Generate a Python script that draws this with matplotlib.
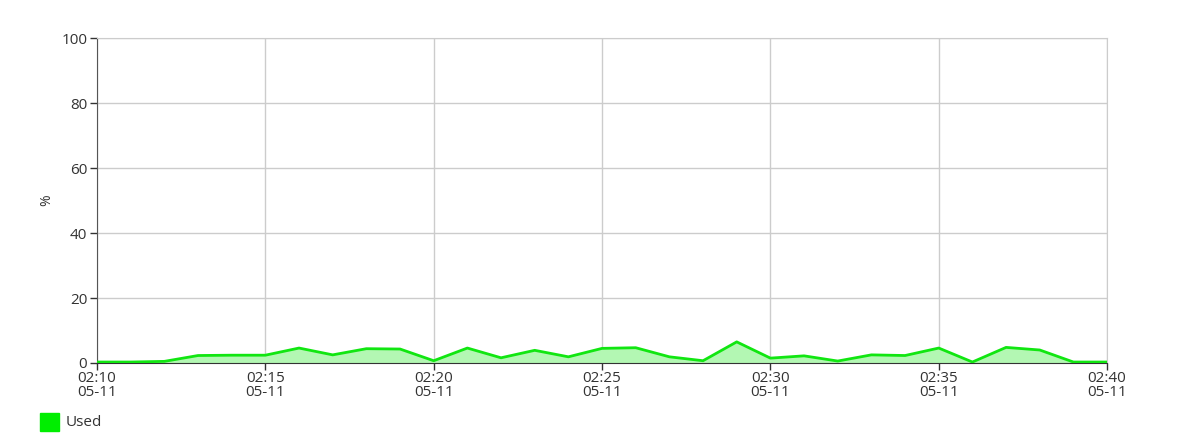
import matplotlib
matplotlib.use('Agg')
import matplotlib.pyplot as plt
import matplotlib.dates as mdates
import pandas as pd

times = pd.date_range('2023-05-11 02:10', '2023-05-11 02:40', freq='1min')
used = [0.3, 0.3, 0.5, 2.3, 2.4, 2.4, 4.6, 2.5, 4.4, 4.3,
        0.7, 4.6, 1.6, 3.9, 1.9, 4.5, 4.7, 1.9, 0.7, 6.5,
        1.5, 2.2, 0.6, 2.5, 2.3, 4.6, 0.3, 4.8, 4.0, 0.3, 0.3]

plt.rcParams['font.family'] = ['Open Sans', 'DejaVu Sans']

fig = plt.figure(figsize=(11.89, 4.34), dpi=100)
ax = fig.add_axes([0.0816, 0.1636, 0.8495, 0.7488])

ax.fill_between(times, used, 0, color='#b3f7b3', zorder=2)
ax.plot(times, used, color='#11e611', linewidth=2, zorder=3)

ax.set_xlim(times[0], times[-1])
ax.set_ylim(0, 100)
ax.set_yticks(range(0, 101, 20))
ax.xaxis.set_major_locator(mdates.MinuteLocator(byminute=range(0, 60, 5)))
ax.xaxis.set_major_formatter(mdates.DateFormatter('%H:%M\n%m-%d'))

ax.grid(True, color='#cccccc', linewidth=1, zorder=0)
for side in ['top', 'right']:
    ax.spines[side].set_color('#cccccc')
ax.spines['left'].set_color('#555555')
ax.spines['bottom'].set_color('#333333')
ax.tick_params(colors='#333333', labelsize=11, length=5, width=1, pad=2)
ax.tick_params(axis='x', labelsize=11, pad=1)
for lbl in ax.get_xticklabels():
    lbl.set_linespacing(0.9)

ax.set_ylabel('%', fontsize=10, color='#333333', labelpad=5)

fig.patches.append(plt.Rectangle((40 / 1189, 1 - 431 / 434), 19 / 1189, 18 / 434,
                                 transform=fig.transFigure, color='#00ee00'))
fig.text(66 / 1189, 1 - 422 / 434, 'Used', fontsize=11, color='#333333', va='center')

fig.savefig('out.png', dpi=100)
